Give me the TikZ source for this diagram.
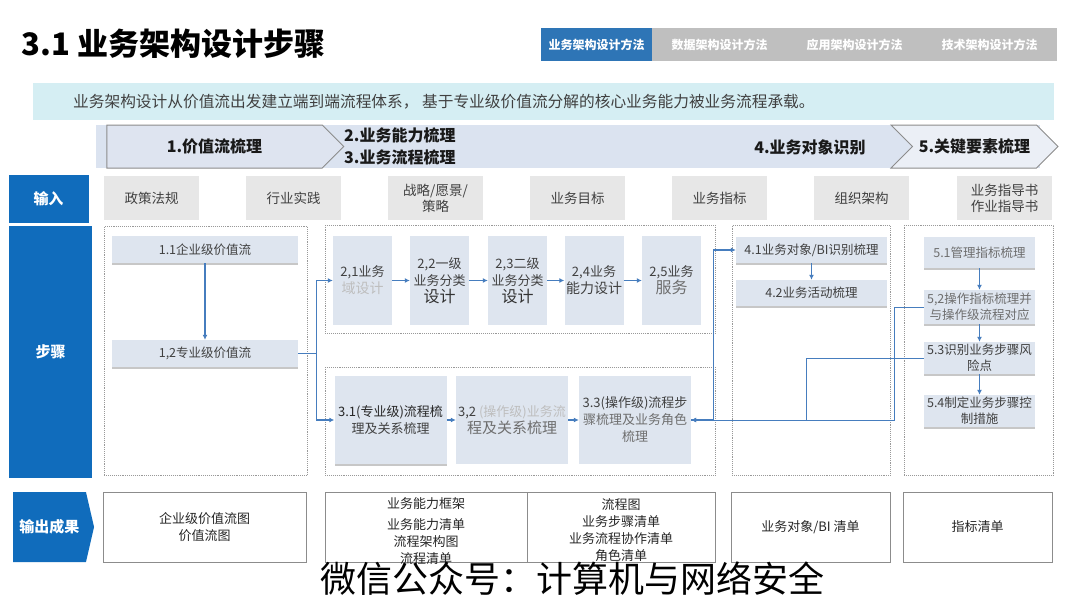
\documentclass[tikz,border=0pt]{standalone}
\usepackage{fontspec}
\setmainfont{Noto Sans CJK SC}
\usepackage{tikz}
\usetikzlibrary{calc,shapes,positioning}
\usetikzlibrary{shapes.symbols}
\usetikzlibrary{shadows}
\usetikzlibrary{arrows.meta}
\tikzset{>={Latex[width=5pt,length=5pt]}}

\definecolor{lblue}{RGB}{16,108,188}
\definecolor{tabblue}{RGB}{46,117,182}
\definecolor{tabgrey}{RGB}{191,191,191}
\definecolor{bnrcyan}{RGB}{213,238,243}
\definecolor{stgband}{RGB}{219,227,240}
\definecolor{chevfill}{RGB}{222,228,240}
\definecolor{ingrey}{RGB}{231,231,231}
\definecolor{stpfill}{RGB}{222,229,239}
\definecolor{arwblue}{RGB}{70,125,190}
\definecolor{txtgrey}{RGB}{64,64,64}
\definecolor{fadegrey}{RGB}{190,190,190}
\definecolor{midgrey}{RGB}{110,110,110}
\newcommand{\fsz}[2]{\fontsize{#1}{#2}\selectfont}

\begin{document}
\begin{tikzpicture}[x=1pt,y=-1pt]
        \tikzstyle{lbl} = [fill=lblue, text=white, font=\bfseries\fsz{15}{18}, inner sep=0pt]
        \tikzstyle{tabon} = [fill=tabblue, text=white, font=\bfseries\fsz{12}{14}, inner sep=0pt, minimum height=33]
        \tikzstyle{taboff} = [tabon, fill=tabgrey]
        \tikzstyle{chev} = [signal, signal to=east, draw=gray!90, fill=chevfill, line width=1pt, inner sep=0pt, text=black!90, font=\bfseries\fsz{16}{20}, minimum height=43]
        \tikzstyle{inbox} = [fill=ingrey, text=txtgrey, font=\fsz{13.5}{15}, align=center, inner sep=0pt, minimum width=95, minimum height=44]
        \tikzstyle{grp} = [draw=gray!80, densely dotted, line width=0.9pt, inner sep=0pt, anchor=north west]
        \tikzstyle{shd} = [drop shadow={shadow xshift=0pt, shadow yshift=-1.5pt, fill=black!22, opacity=1}]
        \tikzstyle{sbar} = [shd, fill=stpfill, text=txtgrey, font=\fsz{12.5}{16}, align=center, inner sep=0pt]
        \tikzstyle{sbox} = [fill=stpfill, text=txtgrey, font=\fsz{13}{17}, align=center, inner sep=0pt]
        \tikzstyle{obox} = [draw=gray!90, fill=white, text=black!85, font=\fsz{13}{17}, align=center, inner sep=0pt, minimum height=70]
        \tikzstyle{otxt} = [text=black!85, font=\fsz{13}{17}, align=center, inner sep=0pt]
        \tikzstyle{arw} = [->, draw=arwblue, line width=1.2pt]

        \path[use as bounding box, fill=white] (0,0) rectangle (1080,608);

        \node[anchor=west, font=\bfseries\fsz{31}{36}] (ttl) at (18,44) {3.1 业务架构设计步骤};

        \node[tabon, minimum width=111] (tb1) at (596.5,44.5) {业务架构设计方法};
        \node[taboff, minimum width=135] (tb2) at (719.5,44.5) {数据架构设计方法};
        \node[taboff, minimum width=135] (tb3) at (854.5,44.5) {应用架构设计方法};
        \node[taboff, minimum width=135] (tb4) at (989.5,44.5) {技术架构设计方法};

        \node[fill=bnrcyan, minimum width=1021, minimum height=37, inner sep=0pt, anchor=north west] (bnr) at (33,83) {};
        \node[anchor=west, text=txtgrey, font=\fsz{15.7}{18}, inner sep=0pt] (bnrtx) at (73,102) {业务架构设计从价值流出发建立端到端流程体系， 基于专业级价值流分解的核心业务能力被业务流程承载。};

        \node[fill=stgband, minimum width=944, minimum height=43, inner sep=0pt, anchor=north west] (band) at (96,125) {};
        \node[chev, minimum width=237] (st1) at (214.5,146.5) {1.价值流梳理};
        \node[anchor=west, align=left, text=black!90, font=\bfseries\fsz{16}{22}, inner sep=0pt] (st23) at (344,146) {2.业务能力梳理\\3.业务流程梳理};
        \node[text=black!90, font=\bfseries\fsz{16}{20}, inner sep=0pt] (st4) at (810,147) {4.业务对象识别};
        \node[chev, signal from=west, fill=chevfill!60!white, minimum width=167] (st5) at (974.5,146.5) {5.关键要素梳理};

        \node[lbl, minimum width=80, minimum height=48] (lin) at (48.5,199) {输入};
        \node[inbox] (in1) at (151.5,198) {政策法规};
        \node[inbox] (in2) at (293.5,198) {行业实践};
        \node[inbox, font=\fsz{13.5}{16}] (in3) at (435.5,198) {战略/愿景/\\策略};
        \node[inbox] (in4) at (577.5,198) {业务目标};
        \node[inbox] (in5) at (719.5,198) {业务指标};
        \node[inbox] (in6) at (861.5,198) {组织架构};
        \node[inbox, font=\fsz{13.5}{16}] (in7) at (1004.5,198) {业务指导书\\作业指导书};

        \node[lbl, minimum width=83, minimum height=252] (lstp) at (50.5,352) {步骤};
        \node[grp, minimum width=203, minimum height=249] (g1) at (104,226) {};
        \node[grp, minimum width=390, minimum height=108] (g2) at (325,225) {};
        \node[grp, minimum width=390, minimum height=108] (g3) at (325,367) {};
        \node[grp, minimum width=158, minimum height=250] (g4) at (732,225) {};
        \node[grp, minimum width=149, minimum height=250] (g5) at (904,225) {};

        \node[sbar, minimum width=186, minimum height=27] (v11) at (205,249.5) {1.1企业级价值流};
        \node[sbar, minimum width=186, minimum height=27] (v12) at (205,353.5) {1,2专业级价值流};

        \node[sbox, minimum width=59, minimum height=89] (c21) at (362.5,280.5) {2,1业务\\{\fsz{14}{17}\color{fadegrey}域设计}};
        \node[sbox, minimum width=59, minimum height=89] (c22) at (439.5,280.5) {2,2一级\\业务分类\\{\fsz{16}{18}\color{black!80}设计}};
        \node[sbox, minimum width=59, minimum height=89] (c23) at (517.5,280.5) {2,3二级\\业务分类\\{\fsz{16}{18}\color{black!80}设计}};
        \node[sbox, minimum width=59, minimum height=89] (c24) at (594,280.5) {2,4业务\\{\fsz{14}{17}能力设计}};
        \node[sbox, minimum width=59, minimum height=89] (c25) at (671.5,280.5) {2,5业务\\{\fsz{16}{19}\color{midgrey}服务}};

        \node[sbox, shd, minimum width=112, minimum height=88] (p31) at (390.5,420) {{\color{black!85}3.1(专业级)流程梳}\\理及关系梳理};
        \node[sbox, minimum width=112, minimum height=88] (p32) at (512,420) {3,2 {\color{fadegrey}(操作级)业务流}\\{\fsz{15}{19}\color{midgrey}程及关系梳理}};
        \node[sbox, minimum width=112, minimum height=88] (p33) at (635,420) {3.3(操作级)流程步\\{\color{midgrey}骤梳理及业务角色}\\{\color{midgrey}梳理}};

        \node[sbar, minimum width=151, minimum height=26] (o41) at (811.5,250) {4.1业务对象/BI识别梳理};
        \node[sbar, minimum width=151, minimum height=26] (o42) at (811.5,293) {4.2业务活动梳理};

        \node[sbar, minimum width=111, minimum height=31, text=midgrey] (q51) at (979.5,252.5) {5.1管理指标梳理};
        \node[sbar, minimum width=111, minimum height=34, text=midgrey] (q52) at (979.5,307) {5,2操作指标梳理并\\与操作级流程对应};
        \node[sbar, minimum width=111, minimum height=32] (q53) at (979.5,358) {5.3识别业务步骤风\\险点};
        \node[sbar, minimum width=111, minimum height=32] (q54) at (979.5,411) {5.4制定业务步骤控\\制措施};

        \draw[arw] (v11) -- (v12);
        \draw[arw] (v12.east) -- ++(18,0) |- (c21.west);
        \draw[arw] (v12.east) -- ++(18,0) |- (p31.west);
        \draw[arw] (c21) -- (c22);
        \draw[arw] (c22) -- (c23);
        \draw[arw] (c23) -- (c24);
        \draw[arw] (c24) -- (c25);
        \draw[arw] (p31) -- (p32);
        \draw[arw] (p32) -- (p33);
        \draw[arw] (o41) -- (o42);
        \draw[arw] (q51) -- (q52);
        \draw[arw] (q52) -- (q53);
        \draw[arw] (q53) -- (q54);
        \draw[arw, line width=0.9pt] (q52.west) -- ++(-29,0) |- (p33.east);
        \draw[arw, line width=0.9pt] (q53.west) -- ++(-117,0) |- (p33.east);
        \draw[arw] (p33.east) -- ++(22,0) |- (o41.west);

        \node[signal, signal to=east, signal pointer angle=154, fill=lblue, text=white, font=\bfseries\fsz{15}{18}, minimum width=81, minimum height=70, inner sep=0pt] (lout) at (49.5,527) {输出成果};
        \node[obox, minimum width=203] (r1) at (204.5,527) {企业级价值流图\\价值流图};
        \node[obox, minimum width=202] (r2) at (426,527) {};
        \node[otxt] (r2tx) at ([yshift=-4pt]r2.center) {业务能力框架\\[4pt]业务能力清单\\流程架构图\\流程清单};
        \node[obox, minimum width=188] (r3) at (621,527) {};
        \node[otxt] (r3tx) at ([yshift=-3pt]r3.center) {流程图\\业务步骤清单\\业务流程协作清单\\角色清单};
        \node[obox, minimum width=159] (r4) at (810.5,527) {业务对象/BI 清单};
        \node[obox, minimum width=149] (r5) at (977.5,527) {指标清单};

        \node[font=\fsz{36}{40}, text=black, inner sep=0pt] (wm) at (572,579) {微信公众号：计算机与网络安全};
\end{tikzpicture}
\end{document}
